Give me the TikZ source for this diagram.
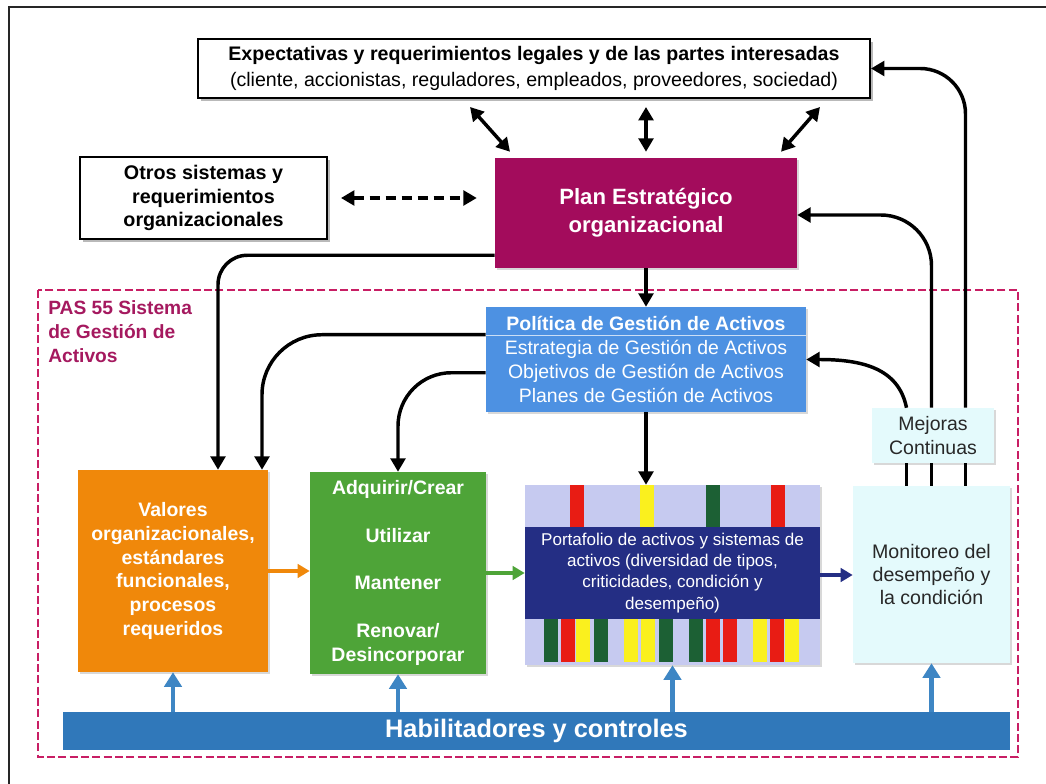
\documentclass[tikz,border=0pt]{standalone}
\usepackage{fontspec}
\setmainfont{Liberation Sans}
\usetikzlibrary{arrows.meta,calc,shadows}

\definecolor{planc}{RGB}{163,12,92}
\definecolor{pasframe}{RGB}{200,30,100}
\definecolor{pastext}{RGB}{165,25,95}
\definecolor{polc}{RGB}{77,145,226}
\definecolor{valc}{RGB}{240,136,10}
\definecolor{grnc}{RGB}{78,164,56}
\definecolor{lav}{RGB}{198,202,240}
\definecolor{navy}{RGB}{36,46,132}
\definecolor{barred}{RGB}{232,28,20}
\definecolor{baryel}{RGB}{250,240,30}
\definecolor{bargrn}{RGB}{28,96,52}
\definecolor{pale}{RGB}{228,250,252}
\definecolor{habc}{RGB}{48,120,186}
\definecolor{upc}{RGB}{62,134,196}
\definecolor{darktxt}{RGB}{40,40,40}

% one unit of the drawing grid
\newcommand{\pxu}{0.75pt}

\begin{document}
\begin{tikzpicture}[x=0.75pt,y=-0.75pt,
  blk/.style={rectangle,inner sep=0pt,align=center},
  framedbox/.style={blk,draw=black,line width=1.5pt,fill=white,
    drop shadow={shadow xshift=2.5pt,shadow yshift=-2.5pt,opacity=0.55}},
  softshadow/.style={drop shadow={shadow xshift=1.5pt,shadow yshift=-1.5pt,opacity=0.3}},
  tip/.style={-{Triangle[length=10pt,width=11pt]}},
  conn/.style={line width=2.6pt,tip},
  twoway/.style={line width=2.6pt,{Triangle[length=10pt,width=11pt]}-{Triangle[length=10pt,width=11pt]}},
  plain/.style={line width=2.6pt},
  uparrow/.style={line width=3.2pt,upc,-{Triangle[length=11pt,width=13pt]}},
  flowarrow/.style={line width=2.8pt,-{Triangle[length=9pt,width=10pt]}}
]
\useasboundingbox (0,0) rectangle (1046,784);
\fill[white] (0,0) rectangle (1046,784);

% outer frame
\draw[line width=1.5pt,black!85,line join=miter] (9,790) -- (9,7) -- (1052,7);

% PAS 55 system boundary
\draw[pasframe,line width=1.4pt,dash pattern=on 6pt off 2.5pt] (38,290) rectangle (1018,757);
\node[anchor=west,align=left,inner sep=0pt,text=pastext,
  font=\bfseries\fontsize{14.4pt}{18pt}\selectfont] (pastitle) at (48,332)
  {PAS 55 Sistema\\de Gestión de\\Activos};

% stakeholder requirements
\node[framedbox,minimum width=672*\pxu,minimum height=59*\pxu,
  font=\fontsize{14.7pt}{19.5pt}\selectfont] (top) at (534,68.5)
  {\textbf{Expectativas y requerimientos legales y de las partes interesadas}\\
   (cliente, accionistas, reguladores, empleados, proveedores, sociedad)};

% other organisational systems
\node[framedbox,minimum width=247*\pxu,minimum height=82*\pxu,
  font=\bfseries\fontsize{14.8pt}{17.3pt}\selectfont] (otros) at (203.5,198)
  {Otros sistemas y\\requerimientos\\organizacionales};

% strategic plan
\node[blk,fill=planc,softshadow,text=white,minimum width=302*\pxu,minimum height=110*\pxu,
  font=\bfseries\fontsize{16.6pt}{21pt}\selectfont] (plan) at (646,213)
  {Plan Estratégico\\organizacional};

% policy / strategy / objectives / plans
\node[blk,fill=polc,softshadow,text=white,minimum width=320*\pxu,minimum height=105*\pxu,
  font=\fontsize{14.6pt}{17.8pt}\selectfont] (pol) at (646,359.5)
  {\textbf{Política de Gestión de Activos}\\Estrategia de Gestión de Activos\\
   Objetivos de Gestión de Activos\\Planes de Gestión de Activos};
\draw[white!70!polc,line width=0.6pt] ($(pol.north west)+(0,29)$) -- ($(pol.north east)+(0,29)$);

% organisational values
\node[blk,fill=valc,softshadow,text=white,minimum width=190*\pxu,minimum height=202*\pxu,
  font=\bfseries\fontsize{14.6pt}{17.8pt}\selectfont] (val) at (173,571)
  {Valores\\organizacionales,\\estándares\\funcionales,\\procesos\\requeridos};

% life-cycle activities
\node[blk,fill=grnc,softshadow,text=white,minimum width=176*\pxu,minimum height=202*\pxu,
  font=\bfseries\fontsize{14.6pt}{17.8pt}\selectfont] (grn) at (398,573)
  {Adquirir/Crear\\[17.8pt]Utilizar\\[17.8pt]Mantener\\[17.8pt]Renovar/\\Desincorporar};

% asset portfolio with coloured asset bars
\node[blk,fill=lav,softshadow,minimum width=295*\pxu,minimum height=180*\pxu] (port) at (672.5,575) {};
\foreach \dx/\bc in {45/barred,115/baryel,181/bargrn,246/barred}
  \fill[\bc] ($(port.north west)+(\dx,0)$) rectangle ++(14,42);
\foreach \dx/\bc in {19/bargrn,36/barred,51/baryel,69/bargrn,99/baryel,116/baryel,134/bargrn,
                     164/bargrn,181/barred,198/barred,228/baryel,245/barred,260/baryel}
  \fill[\bc] ($(port.south west)+(\dx,-46)$) rectangle ++(14,43);
\node[blk,fill=navy,text=white,minimum width=295*\pxu,minimum height=92*\pxu,
  font=\fontsize{12.8pt}{15.8pt}\selectfont] (band) at (672.5,573)
  {Portafolio de activos y sistemas de\\activos (diversidad de tipos,\\
   criticidades, condición y\\desempeño)};

% monitoring
\node[blk,fill=pale,softshadow,text=darktxt,minimum width=157*\pxu,minimum height=177*\pxu,
  font=\fontsize{14.7pt}{17pt}\selectfont] (mon) at (931.5,574.5)
  {Monitoreo del\\desempeño y\\la condición};

% continual improvement
\node[blk,fill=pale,softshadow,text=darktxt,minimum width=122*\pxu,minimum height=55*\pxu,
  font=\fontsize{14.6pt}{18pt}\selectfont] (mej) at (933,435.5)
  {Mejoras\\Continuas};

% enablers and controls
\node[blk,fill=habc,text=white,minimum width=947*\pxu,minimum height=38*\pxu,
  font=\bfseries\fontsize{19pt}{22pt}\selectfont] (hab) at (536.5,731)
  {Habilitadores y controles};

% stakeholder exchanges
\draw[twoway] ($(top.south)+(-64,8)$) -- ($(plan.north)+(-136,-6)$);
\draw[twoway] ($(top.south -| plan.north)+(0,8)$) -- ($(plan.north)+(0,-6)$);
\draw[twoway] ($(top.south)+(286,8)$) -- ($(plan.north)+(135,-6)$);
\draw[line width=2.6pt,dash pattern=on 8pt off 4pt,
  {Triangle[length=10pt,width=11pt]}-{Triangle[length=10pt,width=11pt]},
  shorten <=9.75pt,shorten >=13.5pt] (otros.east) -- (otros.east -| plan.west);

% top-down deployment
\draw[conn] (plan.south) -- (pol.north);
\draw[conn,rounded corners=22pt] ($(plan.south west)+(0,-13)$) -| ($(val.north)+(45,0)$);
\draw[conn,rounded corners=45pt] ($(pol.north west)+(0,28)$) -| ($(val.north)+(89,0)$);
\draw[conn,rounded corners=40pt] ($(pol.north west)+(0,66)$) -| (grn.north);
\draw[conn] (pol.south) -- (pol.south |- port.north);

% feedback from monitoring
\coordinate (l1) at ($(mon.north)+(-25,0)$);
\coordinate (l3) at ($(mon.north)+(34,0)$);
\draw[plain] (l1) -- (l1 |- mej.south);
\draw[plain] (mon.north) -- (mon.north |- mej.south);
\draw[plain] (l3) -- (l3 |- mej.south);
\draw[conn] (l1 |- mej.north) .. controls +(-8,-40) and +(55,0) .. (pol.east);
\draw[conn,rounded corners=38pt] (mon.north |- mej.north) |- ($(plan.east)+(0,2)$);
\draw[conn,rounded corners=34pt] (l3 |- mej.north) |- (top.east);

% operational flow
\draw[flowarrow,valc] (val.east) -- (val.east -| grn.west);
\draw[flowarrow,grnc] (grn.east) -- (grn.east -| port.west);
\draw[flowarrow,navy] (port.east) -- (port.east -| mon.west);

% enablers support every stage
\draw[uparrow] (hab.north -| val.south) -- (val.south);
\draw[uparrow] (hab.north -| grn.south) -- (grn.south);
\draw[uparrow] (hab.north -| port.south) -- (port.south);
\draw[uparrow] (hab.north -| mon.south) -- (mon.south);
\end{tikzpicture}
\end{document}
